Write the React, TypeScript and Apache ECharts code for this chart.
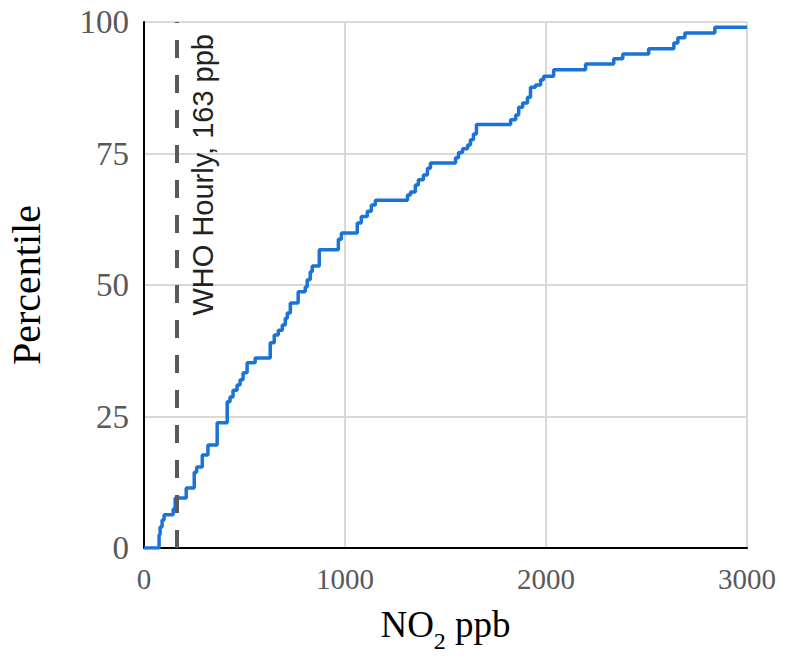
import React, { useEffect, useRef } from "react";
import * as echarts from "echarts";

const no2Ppb = [0, 65, 75, 80, 90, 100, 145, 155, 210, 250, 262, 290, 318, 364, 414, 428, 443, 463, 478, 493, 513, 553, 628, 648, 668, 688, 703, 713, 728, 767, 802, 812, 827, 837, 872, 967, 982, 1061, 1081, 1111, 1131, 1151, 1311, 1326, 1350, 1365, 1390, 1410, 1425, 1550, 1565, 1585, 1610, 1624, 1639, 1654, 1824, 1849, 1864, 1884, 1908, 1923, 1948, 1973, 1988, 2038, 2197, 2337, 2382, 2511, 2636, 2656, 2691, 2840, 3000];
const percentile = [0, 0, 2.5, 4, 5.3, 6.3, 7.4, 9.5, 11.4, 14.4, 15.4, 17.7, 19.6, 23.8, 27.8, 28.7, 30, 31, 32, 33.3, 35.2, 36.1, 39, 40.5, 41.4, 42.4, 43.7, 44.7, 46.6, 48.7, 49.6, 51, 52.5, 53.6, 56.7, 58.7, 59.9, 61.8, 63, 64, 65.2, 66.1, 67.1, 67.7, 69, 70, 70.9, 72.2, 73.2, 74.2, 75.2, 75.9, 76.6, 77.6, 78.7, 80.5, 81.4, 82.3, 83.8, 84.6, 85.7, 87.6, 88, 89, 89.7, 90.9, 92, 93, 93.9, 94.9, 96, 97, 97.9, 99, 99];
const whoLimit = 163;
const whoLabel = "WHO Hourly, 163 ppb";
const xTitle = "{a|NO}{b|2}{a| ppb}";
const yTitle = "Percentile";

export default function App() {
  const ref = useRef<HTMLDivElement>(null);
  useEffect(() => {
    if (!ref.current) return;
    const chart = echarts.init(ref.current, null, { renderer: "svg" });
    const serif = "'Liberation Serif', 'Times New Roman', serif";
    chart.setOption({
      animation: false,
      backgroundColor: "#ffffff",
      grid: { left: 144, right: 41, top: 22, bottom: 110, containLabel: false, outerBoundsMode: "none" },
      xAxis: {
        type: "value",
        min: 0,
        max: 3000,
        interval: 1000,
        name: xTitle,
        nameLocation: "middle",
        nameGap: 58,
        nameTextStyle: {
          rich: {
            a: { fontFamily: serif, fontSize: 37, color: "#000", verticalAlign: "bottom", padding: [0, 0, 10, 0] },
            b: { fontFamily: serif, fontSize: 24, color: "#000", verticalAlign: "bottom" },
          },
        },
        axisLine: { show: true, lineStyle: { color: "#000", width: 2 } },
        axisTick: { show: false },
        axisLabel: { fontFamily: serif, fontSize: 29, color: "#595959", margin: 16, formatter: (v: number) => String(v) },
        splitLine: { show: true, lineStyle: { color: "#d9d9d9", width: 2 } },
      },
      yAxis: {
        type: "value",
        min: 0,
        max: 100,
        interval: 25,
        name: yTitle,
        nameLocation: "middle",
        nameGap: 98,
        nameRotate: 90,
        nameTextStyle: { fontFamily: serif, fontSize: 40, color: "#000" },
        axisLine: { show: true, lineStyle: { color: "#000", width: 2 } },
        axisTick: { show: false },
        axisLabel: { fontFamily: serif, fontSize: 33, color: "#595959", margin: 15 },
        splitLine: { show: true, lineStyle: { color: "#d9d9d9", width: 2 } },
      },
      series: [
        {
          type: "line",
          step: "end",
          data: no2Ppb.map((x, i) => [x, percentile[i]]),
          showSymbol: false,
          symbol: "none",
          lineStyle: { color: "#1a73d6", width: 3.5 },
          z: 3,
          markLine: {
            silent: true,
            symbol: ["none", "none"],
            lineStyle: { type: [18, 17], color: "#595959", width: 4 },
            label: {
              show: true,
              position: "insideEndBottom",
              formatter: whoLabel,
              fontFamily: "'Liberation Sans', Arial, sans-serif",
              fontSize: 29,
              color: "#222",
              distance: 12,
            },
            data: [{ xAxis: whoLimit }],
          },
        },
      ],
    });
    return () => chart.dispose();
  }, []);
  return <div ref={ref} style={{ position: "absolute", left: 0, top: 0, width: 788, height: 658 }} />;
}
